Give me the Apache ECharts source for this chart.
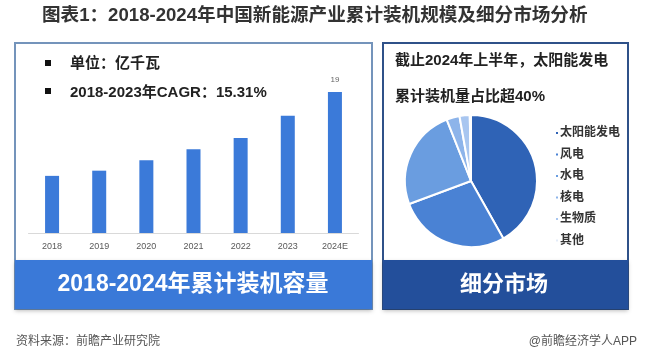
<!DOCTYPE html>
<html><head><meta charset="utf-8">
<script src="https://cdn.jsdelivr.net/npm/echarts@6/dist/echarts.min.js"></script>
<style>html,body{margin:0;padding:0;background:#fff}#c{width:650px;height:359px}</style>
</head><body><div id="c"></div>
<script>
const years = ['2018','2019','2020','2021','2022','2023','2024E'];
const capacity = [7.7, 8.4, 9.8, 11.3, 12.8, 15.8, 19];
const segNames = ['太阳能发电','风电','水电','核电','生物质','其他'];
const segShares = [41.9, 27.5, 24.7, 3.2, 2.5, 0.3];
const segColors = ['#2f63b6','#4a82d4','#6a9de0','#8db4ea','#a8c6f0','#e4ecf8'];
const titleText = '图表1：2018-2024年中国新能源产业累计装机规模及细分市场分析';
const leftNotes = ['单位：亿千瓦','2018-2023年CAGR：15.31%'];
const rightNotes = ['截止2024年上半年，太阳能发电','累计装机量占比超40%'];
const leftBanner = '2018-2024年累计装机容量';
const rightBanner = '细分市场';
const sourceText = '资料来源：前瞻产业研究院';
const brandText = '@前瞻经济学人APP';

const FF = "'Liberation Sans','Noto Sans CJK SC',sans-serif";
const chart = echarts.init(document.getElementById('c'));
const txt = (t, x, y, size, color, weight, align) => ({
  type: 'text', z: 10,
  style: { text: t, x: x, y: y, fill: color, font: `${weight} ${size}px ${FF}`, align: align || 'left', verticalAlign: 'middle' }
});
chart.setOption({
  backgroundColor: '#fff',
  animation: false,
  graphic: [
    // panels
    { type: 'rect', z: 0, shape: { x: 15, y: 43, width: 357, height: 266 }, style: { fill: '#fff', stroke: '#7494bb', lineWidth: 2 } },
    { type: 'rect', z: 1, shape: { x: 15, y: 260, width: 357, height: 49 }, style: { fill: '#3a79d8', shadowBlur: 4, shadowColor: 'rgba(0,0,0,0.25)', shadowOffsetY: 2 } },
    { type: 'rect', z: 0, shape: { x: 383, y: 43, width: 245, height: 266 }, style: { fill: '#fff', stroke: '#2f5189', lineWidth: 2 } },
    { type: 'rect', z: 1, shape: { x: 383, y: 260, width: 245, height: 49 }, style: { fill: '#234f9b', shadowBlur: 4, shadowColor: 'rgba(0,0,0,0.25)', shadowOffsetY: 2 } },
    // title
    txt(titleText, 42, 16, 18.6, '#333', 'bold'),
    // left notes
    { type: 'rect', z: 10, shape: { x: 45, y: 60, width: 6, height: 6 }, style: { fill: '#111' } },
    { type: 'rect', z: 10, shape: { x: 45, y: 88, width: 6, height: 6 }, style: { fill: '#111' } },
    txt(leftNotes[0], 70, 64, 15, '#222', 'bold'),
    txt(leftNotes[1], 70, 93, 15, '#222', 'bold'),
    // right notes
    txt(rightNotes[0], 395, 61, 15, '#222', 'bold'),
    txt(rightNotes[1], 395, 97, 15, '#222', 'bold'),
    // banners
    txt(leftBanner, 193, 285, 23, '#fff', 'bold', 'center'),
    txt(rightBanner, 504, 285, 22, '#fff', 'bold', 'center'),
    // footer
    txt(sourceText, 16, 342, 12, '#555', 'normal'),
    txt(brandText, 637, 342, 12, '#555', 'normal', 'right')
  ],
  grid: { left: 28.5, right: 650 - 358.5, top: 84.6, bottom: 126, containLabel: false },
  xAxis: {
    type: 'category', data: years,
    axisLine: { lineStyle: { color: '#d9d9d9' } },
    axisTick: { show: false },
    axisLabel: { color: '#595959', fontSize: 9, margin: 9, fontFamily: FF }
  },
  yAxis: { type: 'value', min: 0, max: 20, show: false, splitLine: { show: false } },
  legend: {
    orient: 'vertical', left: 549, top: 122, itemGap: 9.5,
    icon: 'rect', itemWidth: 4, itemHeight: 4,
    data: segNames,
    textStyle: { color: '#333', fontSize: 12, fontWeight: 'bold', fontFamily: FF, padding: [0, 0, 0, -4] }
  },
  series: [
    {
      type: 'bar', data: capacity, barWidth: 14,
      itemStyle: { color: '#3b7ad9' },
      label: { show: true, position: 'top', color: '#666', fontSize: 8, fontFamily: FF, distance: 8,
        formatter: p => p.dataIndex === capacity.length - 1 ? String(p.value) : '' }
    },
    {
      type: 'pie', center: [471, 181], radius: 66, startAngle: 90, clockwise: true,
      label: { show: false }, labelLine: { show: false },
      itemStyle: { borderColor: '#fff', borderWidth: 2 },
      data: segNames.map((n, i) => ({ name: n, value: segShares[i], itemStyle: { color: segColors[i] } }))
    }
  ]
});
</script></body></html>
